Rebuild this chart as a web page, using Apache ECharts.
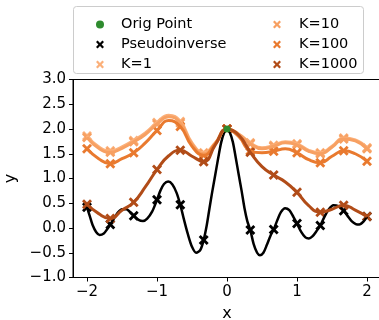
<!DOCTYPE html>
<html>
<head>
<meta charset="utf-8">
<script src="https://cdn.jsdelivr.net/npm/echarts@6/dist/echarts.min.js"></script>
<style>
  html, body { margin: 0; padding: 0; background: #fff; }
  #chart { width: 379px; height: 320px; }
</style>
</head>
<body>
<div id="chart"></div>
<script>
// sample positions and the smooth curves
const sampleX = [-2, -1.667, -1.333, -1, -0.667, -0.333, 0, 0.333, 0.667, 1, 1.333, 1.667, 2];

const curveX = [-2, -1.833, -1.667, -1.5, -1.333, -1.167, -1, -0.833, -0.667, -0.5, -0.333, -0.167, 0,
  0.167, 0.333, 0.5, 0.667, 0.833, 1, 1.167, 1.333, 1.5, 1.667, 1.833, 2];
const k1Curve = [1.86, 1.64, 1.56, 1.64, 1.77, 1.92, 2.13, 2.28, 2.15, 1.72, 1.52, 1.72, 2.0,
  1.90, 1.72, 1.62, 1.67, 1.74, 1.70, 1.57, 1.52, 1.65, 1.82, 1.78, 1.62];
const k10Curve = [1.83, 1.61, 1.53, 1.61, 1.74, 1.89, 2.10, 2.25, 2.12, 1.69, 1.50, 1.71, 2.0,
  1.89, 1.70, 1.60, 1.65, 1.72, 1.68, 1.55, 1.50, 1.63, 1.80, 1.76, 1.60];
const k100Curve = [1.60, 1.40, 1.30, 1.40, 1.52, 1.72, 1.97, 2.17, 2.05, 1.65, 1.47, 1.70, 2.0,
  1.85, 1.56, 1.52, 1.55, 1.60, 1.52, 1.38, 1.32, 1.45, 1.56, 1.50, 1.35];
const k1000Curve = [0.48, 0.29, 0.19, 0.36, 0.52, 0.83, 1.18, 1.46, 1.57, 1.45, 1.34, 1.68, 2.0,
  1.88, 1.53, 1.24, 1.07, 0.93, 0.72, 0.45, 0.32, 0.38, 0.46, 0.36, 0.23];

const pinvX = [-2, -1.96, -1.92, -1.87, -1.82, -1.76, -1.71, -1.667, -1.62, -1.56, -1.5, -1.44, -1.39,
  -1.333, -1.27, -1.2, -1.14, -1.07, -1, -0.95, -0.9, -0.84, -0.78, -0.72, -0.667, -0.62, -0.56,
  -0.5, -0.44, -0.38, -0.333, -0.29, -0.25, -0.21, -0.167, -0.125, -0.083, -0.04, 0,
  0.04, 0.083, 0.125, 0.167, 0.21, 0.25, 0.29, 0.333, 0.38, 0.43, 0.47, 0.52, 0.57, 0.62,
  0.667, 0.72, 0.77, 0.83, 0.89, 0.95, 1, 1.06, 1.12, 1.17, 1.22, 1.28, 1.333, 1.39, 1.45,
  1.52, 1.59, 1.667, 1.72, 1.78, 1.84, 1.89, 1.95, 2];
const pinvCurve = [0.42, 0.24, 0.06, -0.08, -0.14, -0.11, -0.02, 0.07, 0.18, 0.31, 0.38, 0.38, 0.33,
  0.25, 0.17, 0.14, 0.19, 0.33, 0.57, 0.76, 0.89, 0.94, 0.88, 0.71, 0.47, 0.20, -0.12,
  -0.38, -0.50, -0.44, -0.24, 0.05, 0.40, 0.74, 1.08, 1.42, 1.73, 1.93, 2.0,
  1.93, 1.74, 1.42, 1.08, 0.74, 0.40, 0.14, -0.04, -0.32, -0.50, -0.55, -0.50, -0.34, -0.16,
  -0.03, 0.16, 0.32, 0.40, 0.36, 0.22, 0.09, -0.08, -0.19, -0.21, -0.17, -0.06, 0.05, 0.22, 0.37,
  0.46, 0.44, 0.35, 0.25, 0.14, 0.08, 0.07, 0.13, 0.23];
const pinvMarks = [0.42, 0.07, 0.25, 0.57, 0.47, -0.24, 2.0, -0.04, -0.03, 0.09, 0.05, 0.35, 0.23];

const origPoint = [[0, 2.0]];

const xTicks = [-2, -1, 0, 1, 2];

const colK1 = '#fbb07a';
const colK10 = '#f7a062';
const colK100 = '#e97a2f';
const colK1000 = '#b14c18';
const xPath = 'path://M2,0L5,3L8,0L10,2L7,5L10,8L8,10L5,7L2,10L0,8L3,5L0,2Z';
const FONT = 'DejaVu Sans';

function pairs(xs, ys) {
  return xs.map((x, i) => [x, ys[i]]);
}
// markers of the K curves sit at every other curve point
function marks(ys) {
  return ys.filter((v, i) => i % 2 === 0).map((v, i) => [sampleX[i], v]);
}
function minus(v) {
  return String(v).replace('-', '\u2212');
}

function curveSeries(data, color, width, smooth) {
  return {
    type: 'line', data: data, smooth: smooth, showSymbol: false,
    lineStyle: { color: color, width: width }, silent: true
  };
}
function markSeries(name, data, color) {
  return {
    name: name, type: 'scatter', data: data, symbol: xPath, symbolSize: 10,
    itemStyle: { color: color, opacity: 1 }
  };
}

const chart = echarts.init(document.getElementById('chart'), null, { renderer: 'canvas' });

chart.setOption({
  animation: false,
  backgroundColor: '#fff',
  grid: {
    left: 73, top: 79.5, width: 308, height: 198, show: true, borderColor: '#000', borderWidth: 1,
    containLabel: false, outerBoundsMode: 'none'
  },
  graphic: [{
    type: 'rect', shape: { x: 73.5, y: 6.5, width: 290, height: 67, r: 3 },
    style: { fill: 'rgba(255,255,255,0.8)', stroke: '#cccccc', lineWidth: 1 }, z: 100
  }],
  legend: [{
    data: [{ name: 'Orig Point', icon: 'circle' }, { name: 'Pseudoinverse', icon: xPath }, { name: 'K=1', icon: xPath }],
    orient: 'vertical', left: 91, top: 12, itemWidth: 8, itemHeight: 8, itemGap: 5, z: 110,
    textStyle: { fontFamily: FONT, fontSize: 14.5, color: '#000', padding: [0, 0, 0, 12] }
  }, {
    data: [{ name: 'K=10', icon: xPath }, { name: 'K=100', icon: xPath }, { name: 'K=1000', icon: xPath }],
    orient: 'vertical', left: 268, top: 12, itemWidth: 8, itemHeight: 8, itemGap: 5, z: 110,
    textStyle: { fontFamily: FONT, fontSize: 14.5, color: '#000', padding: [0, 0, 0, 13] }
  }],
  xAxis: {
    type: 'value', min: -2.2, max: 2.2,
    name: 'x', nameLocation: 'middle', nameGap: 28,
    nameTextStyle: { fontFamily: FONT, fontSize: 16, color: '#000' },
    axisLine: { onZero: false, lineStyle: { color: '#000', width: 1 } },
    axisTick: { show: true, length: 4, lineStyle: { color: '#000' }, customValues: xTicks },
    axisLabel: { fontFamily: FONT, fontSize: 15, color: '#000', margin: 7, customValues: xTicks, formatter: minus },
    splitLine: { show: false }
  },
  yAxis: {
    type: 'value', min: -1, max: 3, interval: 0.5,
    name: 'y', nameLocation: 'middle', nameGap: 53, nameRotate: 90,
    nameTextStyle: { fontFamily: FONT, fontSize: 16, color: '#000' },
    axisLine: { show: true, onZero: false, lineStyle: { color: '#000', width: 1 } },
    axisTick: { show: true, length: 4, lineStyle: { color: '#000' } },
    axisLabel: { fontFamily: FONT, fontSize: 15, color: '#000', margin: 7, formatter: v => minus(v.toFixed(1)) },
    splitLine: { show: false }
  },
  series: [
    curveSeries(pairs(pinvX, pinvCurve), '#000', 2.5, 0.3),
    markSeries('Pseudoinverse', pairs(sampleX, pinvMarks), '#000'),
    curveSeries(pairs(curveX, k1Curve), colK1, 3, 0.5),
    markSeries('K=1', marks(k1Curve), colK1),
    curveSeries(pairs(curveX, k10Curve), colK10, 3, 0.5),
    markSeries('K=10', marks(k10Curve), colK10),
    curveSeries(pairs(curveX, k100Curve), colK100, 3, 0.5),
    markSeries('K=100', marks(k100Curve), colK100),
    curveSeries(pairs(curveX, k1000Curve), colK1000, 3, 0.5),
    markSeries('K=1000', marks(k1000Curve), colK1000),
    { name: 'Orig Point', type: 'scatter', data: origPoint, symbol: 'circle', symbolSize: 7, itemStyle: { color: '#2e8b2e', opacity: 1 }, z: 5 }
  ]
});
</script>
</body>
</html>
